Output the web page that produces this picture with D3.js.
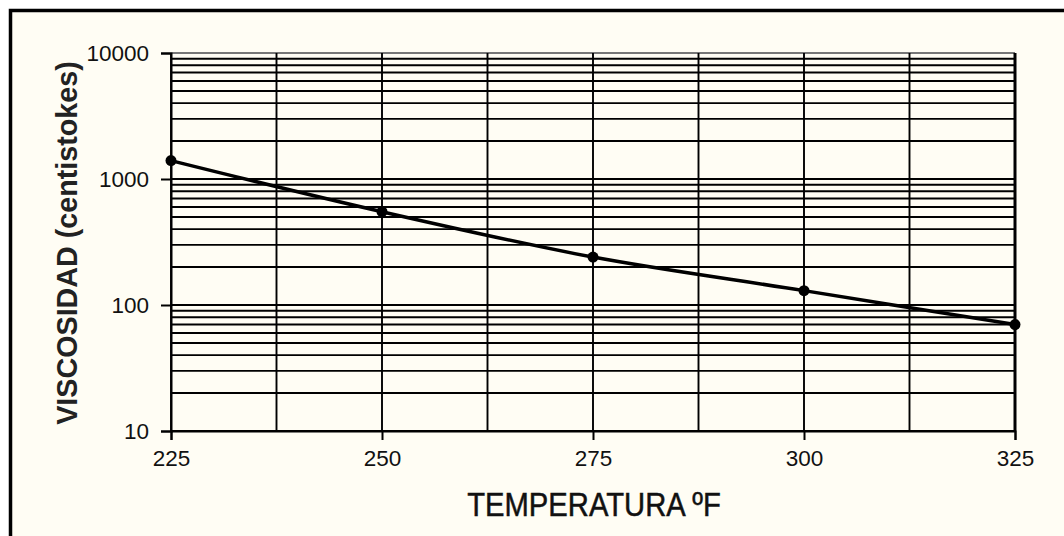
<!DOCTYPE html>
<html>
<head>
<meta charset="utf-8">
<script src="https://cdn.jsdelivr.net/npm/d3@7"></script>
<style>
  body { margin: 0; background: #ffffff; }
  svg { display: block; font-family: "Liberation Sans", Arial, sans-serif; }
</style>
</head>
<body>
<svg id="chart"></svg>
<script>
const temps = [225, 250, 275, 300, 325];
const viscosity = [1400, 550, 240, 130, 70];
const xTicks = [225, 250, 275, 300, 325];
const yTicks = [10, 100, 1000, 10000];

const W = 1064, H = 536;
const plot = { left: 171, right: 1015, top: 53, bottom: 431 };

const svg = d3.select("#chart").attr("width", W).attr("height", H);

// outer frame (cut off at right and bottom like the source)
svg.append("rect")
  .attr("x", 10.5).attr("y", 10.5)
  .attr("width", 1200).attr("height", 800)
  .attr("fill", "#fffdf4")
  .attr("stroke", "#000")
  .attr("stroke-width", 3.5);

const x = d3.scaleLinear().domain([225, 325]).range([plot.left, plot.right]);
const y = d3.scaleLog().domain([10, 10000]).range([plot.bottom, plot.top]);

// horizontal grid lines at 1..9 of each decade
const grid = svg.append("g");
grid.selectAll(".hgrid")
  .data(y.ticks())
  .enter()
  .append("line")
  .attr("class", "hgrid")
  .attr("x1", plot.left).attr("x2", plot.right)
  .attr("y1", (d) => y(d)).attr("y2", (d) => y(d))
  .attr("stroke", (d) => (d === 10000 ? "#777" : "#000"))
  .attr("stroke-width", 1.9);

// vertical grid lines every 12.5 degrees
grid.selectAll(".vgrid")
  .data(d3.range(225, 326, 12.5))
  .enter()
  .append("line")
  .attr("class", "vgrid")
  .attr("x1", (d) => x(d)).attr("x2", (d) => x(d))
  .attr("y1", plot.top).attr("y2", plot.bottom)
  .attr("stroke", "#000")
  .attr("stroke-width", (d) => (d === 325 ? 3 : 1.9));

// axes
const xAxis = svg.append("g")
  .attr("transform", "translate(0," + plot.bottom + ")")
  .call(d3.axisBottom(x).tickValues(xTicks).tickSize(9).tickPadding(10).tickFormat(d3.format("d")));

const yAxis = svg.append("g")
  .attr("transform", "translate(" + plot.left + ",0)")
  .call(d3.axisLeft(y).tickValues(yTicks).tickSize(10).tickPadding(12).tickFormat(d3.format("d")));

[xAxis, yAxis].forEach((a) => {
  a.select(".domain").attr("stroke", "#000").attr("stroke-width", 2);
  a.selectAll(".tick line").attr("stroke", "#000").attr("stroke-width", 2);
  a.selectAll(".tick text")
    .attr("fill", "#111")
    .style("font-size", "22.5px")
    .style("font-family", "'Liberation Sans', Arial, sans-serif");
});

// data line
const line = d3.line()
  .x((d, i) => x(temps[i]))
  .y((d) => y(d))
  .curve(d3.curveCatmullRom.alpha(0.5));

svg.append("path")
  .datum(viscosity)
  .attr("d", line)
  .attr("fill", "none")
  .attr("stroke", "#000")
  .attr("stroke-width", 3.5);

svg.selectAll(".pt")
  .data(viscosity)
  .enter()
  .append("circle")
  .attr("class", "pt")
  .attr("cx", (d, i) => x(temps[i]))
  .attr("cy", (d) => y(d))
  .attr("r", 5.5)
  .attr("fill", "#000");

// axis titles
svg.append("text")
  .attr("transform", "translate(594,516) scale(0.86,1)")
  .attr("text-anchor", "middle")
  .style("font-size", "34px")
  .attr("fill", "#111")
  .attr("stroke", "#111")
  .attr("stroke-width", 0.5)
  .text("TEMPERATURA ºF");

svg.append("text")
  .attr("transform", "translate(77,243) rotate(-90) scale(0.99,1)")
  .attr("text-anchor", "middle")
  .style("font-size", "29px")
  .style("font-weight", "bold")
  .attr("fill", "#222")
  .text("VISCOSIDAD (centistokes)");
</script>
</body>
</html>
